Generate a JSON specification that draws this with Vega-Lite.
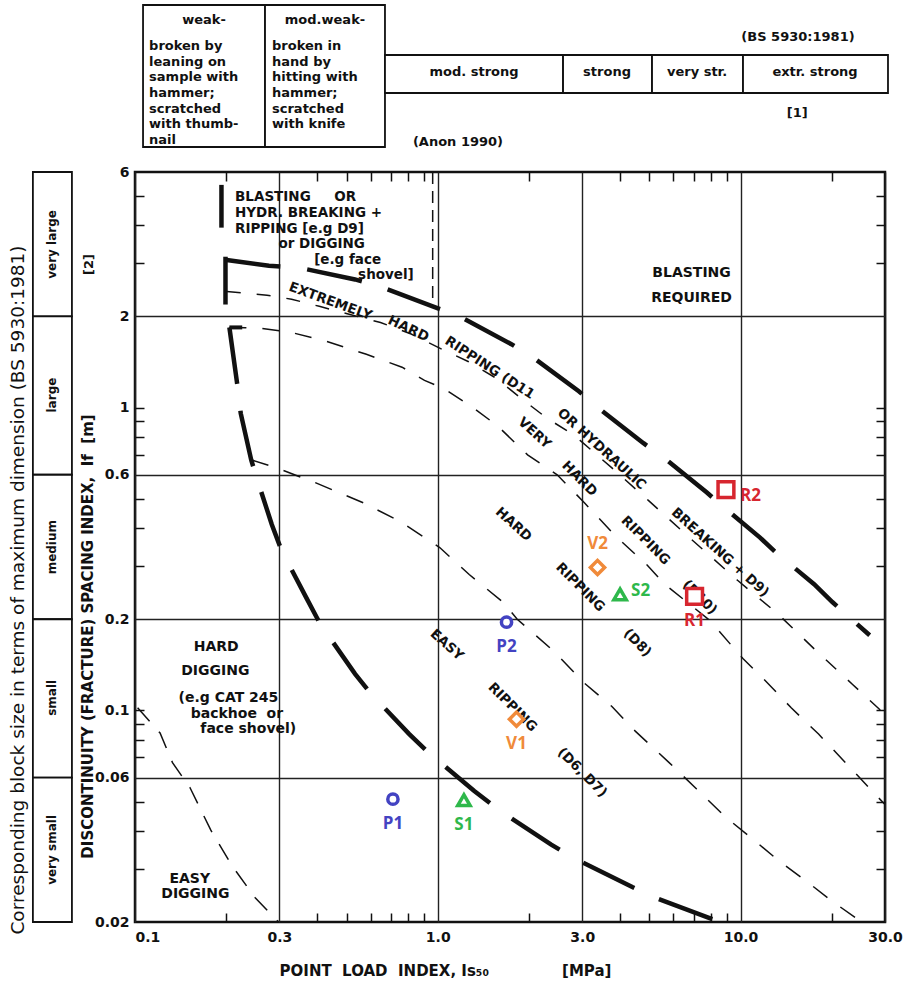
{
  "$schema": "https://vega.github.io/schema/vega-lite/v6.json",
  "width": 750,
  "height": 750,
  "autosize": {"type": "none"},
  "padding": {"left": 135, "top": 172, "right": 24, "bottom": 67},
  "background": "white",
  "config": {
    "view": {"stroke": "#111", "strokeWidth": 2.5},
    "axis": {"domain": false, "labelFont": "DejaVu Sans", "labelFontWeight": "bold", "labelFontSize": 14, "labelColor": "#111", "titleFont": "DejaVu Sans", "titleFontWeight": "bold", "titleFontSize": 14.5, "titleColor": "#111", "tickColor": "#111", "gridColor": "#222", "gridWidth": 1.4, "gridOpacity": 1}
  },
  "datasets": {
    "curves": [
      {"c": "A", "x": 0.102, "y": 0.102}, {"c": "A", "x": 0.121, "y": 0.0842}, {"c": "A", "x": 0.133, "y": 0.0672}, {"c": "A", "x": 0.152, "y": 0.0555}, {"c": "A", "x": 0.178, "y": 0.0402}, {"c": "A", "x": 0.21, "y": 0.0305}, {"c": "A", "x": 0.249, "y": 0.0241}, {"c": "A", "x": 0.298, "y": 0.02},
      {"c": "B", "x": 0.205, "y": 1.84}, {"c": "B", "x": 0.217, "y": 1.22}, {"c": "B", "x": 0.2235, "y": 0.957}, {"c": "B", "x": 0.242, "y": 0.672}, {"c": "B", "x": 0.251, "y": 0.596}, {"c": "B", "x": 0.283, "y": 0.411}, {"c": "B", "x": 0.305, "y": 0.337}, {"c": "B", "x": 0.37, "y": 0.233}, {"c": "B", "x": 0.409, "y": 0.193}, {"c": "B", "x": 0.533, "y": 0.132}, {"c": "B", "x": 0.604, "y": 0.113}, {"c": "B", "x": 0.805, "y": 0.0835}, {"c": "B", "x": 0.918, "y": 0.0735}, {"c": "B", "x": 1.32, "y": 0.0542}, {"c": "B", "x": 1.62, "y": 0.0463}, {"c": "B", "x": 2.37, "y": 0.036}, {"c": "B", "x": 2.82, "y": 0.0325}, {"c": "B", "x": 4.39, "y": 0.0261}, {"c": "B", "x": 5.37, "y": 0.0238}, {"c": "B", "x": 8.56, "y": 0.02},
      {"c": "C", "x": 0.242, "y": 0.672}, {"c": "C", "x": 0.294, "y": 0.632}, {"c": "C", "x": 0.394, "y": 0.565}, {"c": "C", "x": 0.567, "y": 0.485}, {"c": "C", "x": 0.744, "y": 0.423}, {"c": "C", "x": 1.015, "y": 0.345}, {"c": "C", "x": 1.27, "y": 0.281}, {"c": "C", "x": 1.64, "y": 0.228}, {"c": "C", "x": 1.83, "y": 0.2}, {"c": "C", "x": 2.43, "y": 0.156}, {"c": "C", "x": 3.05, "y": 0.123}, {"c": "C", "x": 3.76, "y": 0.103}, {"c": "C", "x": 4.49, "y": 0.0854}, {"c": "C", "x": 5.81, "y": 0.0672}, {"c": "C", "x": 7.16, "y": 0.055}, {"c": "C", "x": 8.9, "y": 0.0445}, {"c": "C", "x": 11.0, "y": 0.0375}, {"c": "C", "x": 13.3, "y": 0.032}, {"c": "C", "x": 16.4, "y": 0.0274}, {"c": "C", "x": 20.1, "y": 0.0234}, {"c": "C", "x": 25.1, "y": 0.02},
      {"c": "D", "x": 0.205, "y": 1.84}, {"c": "D", "x": 0.258, "y": 1.83}, {"c": "D", "x": 0.329, "y": 1.77}, {"c": "D", "x": 0.426, "y": 1.66}, {"c": "D", "x": 0.581, "y": 1.5}, {"c": "D", "x": 0.762, "y": 1.36}, {"c": "D", "x": 0.904, "y": 1.23}, {"c": "D", "x": 1.05, "y": 1.155}, {"c": "D", "x": 1.32, "y": 0.993}, {"c": "D", "x": 1.58, "y": 0.868}, {"c": "D", "x": 1.98, "y": 0.698}, {"c": "D", "x": 2.48, "y": 0.6}, {"c": "D", "x": 3.05, "y": 0.485}, {"c": "D", "x": 3.85, "y": 0.378}, {"c": "D", "x": 4.93, "y": 0.301}, {"c": "D", "x": 5.59, "y": 0.262}, {"c": "D", "x": 7.92, "y": 0.198}, {"c": "D", "x": 10.2, "y": 0.148}, {"c": "D", "x": 12.3, "y": 0.123}, {"c": "D", "x": 14.7, "y": 0.102}, {"c": "D", "x": 18.1, "y": 0.0835}, {"c": "D", "x": 22.4, "y": 0.0666}, {"c": "D", "x": 27.8, "y": 0.0529}, {"c": "D", "x": 30, "y": 0.0489},
      {"c": "E", "x": 0.201, "y": 2.42}, {"c": "E", "x": 0.273, "y": 2.35}, {"c": "E", "x": 0.329, "y": 2.28}, {"c": "E", "x": 0.406, "y": 2.16}, {"c": "E", "x": 0.513, "y": 2.03}, {"c": "E", "x": 0.647, "y": 1.91}, {"c": "E", "x": 0.817, "y": 1.75}, {"c": "E", "x": 1.03, "y": 1.56}, {"c": "E", "x": 1.26, "y": 1.42}, {"c": "E", "x": 1.56, "y": 1.25}, {"c": "E", "x": 1.89, "y": 1.07}, {"c": "E", "x": 2.3, "y": 0.921}, {"c": "E", "x": 2.82, "y": 0.811}, {"c": "E", "x": 3.76, "y": 0.632}, {"c": "E", "x": 4.97, "y": 0.493}, {"c": "E", "x": 6.78, "y": 0.372}, {"c": "E", "x": 9.77, "y": 0.269}, {"c": "E", "x": 13.3, "y": 0.208}, {"c": "E", "x": 17.7, "y": 0.158}, {"c": "E", "x": 23.4, "y": 0.122}, {"c": "E", "x": 30, "y": 0.097},
      {"c": "F", "x": 0.198, "y": 3.08}, {"c": "F", "x": 0.277, "y": 2.94}, {"c": "F", "x": 0.348, "y": 2.9}, {"c": "F", "x": 0.533, "y": 2.65}, {"c": "F", "x": 0.647, "y": 2.51}, {"c": "F", "x": 0.962, "y": 2.16}, {"c": "F", "x": 1.18, "y": 2.0}, {"c": "F", "x": 1.75, "y": 1.62}, {"c": "F", "x": 2.09, "y": 1.45}, {"c": "F", "x": 2.93, "y": 1.13}, {"c": "F", "x": 3.42, "y": 0.99}, {"c": "F", "x": 4.78, "y": 0.763}, {"c": "F", "x": 5.59, "y": 0.682}, {"c": "F", "x": 7.74, "y": 0.524}, {"c": "F", "x": 8.84, "y": 0.467}, {"c": "F", "x": 11.6, "y": 0.372}, {"c": "F", "x": 13.1, "y": 0.332}, {"c": "F", "x": 17.5, "y": 0.261}, {"c": "F", "x": 20.1, "y": 0.228}, {"c": "F", "x": 26.7, "y": 0.177}
    ],
    "pts": [
      {"id": "P1", "g": "P", "x": 0.711, "y": 0.0509},
      {"id": "S1", "g": "S", "x": 1.22, "y": 0.0505},
      {"id": "P2", "g": "P", "x": 1.687, "y": 0.1956},
      {"id": "V1", "g": "V", "x": 1.82, "y": 0.0935},
      {"id": "V2", "g": "V", "x": 3.37, "y": 0.2965},
      {"id": "S2", "g": "S", "x": 4.0, "y": 0.2416},
      {"id": "R1", "g": "R", "x": 7.05, "y": 0.238},
      {"id": "R2", "g": "R", "x": 8.95, "y": 0.5356}
    ]
  },
  "layer": [
    {
      "data": {"name": "curves"},
      "transform": [{"filter": "datum.c === 'F'"}],
      "mark": {"type": "line", "stroke": "#111", "strokeWidth": 4.5, "strokeDash": [56, 27]},
      "encoding": {
        "x": {"field": "x", "type": "quantitative", "scale": {"type": "log", "domain": [0.1, 30], "nice": false},
          "axis": {"orient": "bottom", "values": [0.1, 0.3, 1, 3, 10, 30], "format": ".1f", "grid": true, "ticks": false, "tickSize": 0, "labelPadding": 8, "labelFlush": false, "labelAlign": {"condition": {"test": "datum.value <= 0.1", "value": "left"}, "value": "center"}, "title": "POINT\u00a0\u00a0LOAD\u00a0\u00a0INDEX,\u00a0Is₅₀\u00a0\u00a0\u00a0\u00a0\u00a0\u00a0\u00a0\u00a0\u00a0\u00a0\u00a0\u00a0\u00a0\u00a0[MPa]", "titleFontSize": 15, "titleX": 310, "titleY": 48, "titleBaseline": "middle", "titleAlign": "center"}},
        "y": {"field": "y", "type": "quantitative", "scale": {"type": "log", "domain": [0.02, 6], "nice": false},
          "axis": {"orient": "left", "values": [6, 2, 1, 0.6, 0.2, 0.1, 0.06, 0.02], "format": "~g", "grid": false, "ticks": false, "tickSize": 0, "labelPadding": 6, "title": "DISCONTINUITY\u00a0(FRACTURE)\u00a0SPACING\u00a0INDEX,\u00a0\u00a0If\u00a0\u00a0[m]", "titleFontSize": 15, "titleX": -48, "titleY": 464, "titleAlign": "center", "titleBaseline": "middle", "titleAngle": 270}}
      }
    },
    {
      "data": {"name": "curves"},
      "transform": [{"filter": "datum.c === 'B'"}],
      "mark": {"type": "line", "stroke": "#111", "strokeWidth": 4.5, "strokeDash": [57, 27]},
      "encoding": {
        "x": {"field": "x", "type": "quantitative", "scale": {"type": "log", "domain": [0.1, 30], "nice": false},
          "axis": {"orient": "bottom", "offset": -9, "values": [0.2, 0.4, 0.5, 0.6, 0.7, 0.8, 0.9, 2, 4, 5, 6, 7, 8, 9, 20], "labels": false, "grid": false, "ticks": true, "tickSize": 9, "tickWidth": 1.5, "title": null}},
        "y": {"field": "y", "type": "quantitative", "scale": {"type": "log", "domain": [0.02, 6], "nice": false},
          "axis": {"orient": "left", "offset": -9, "values": [5, 4, 3, 1, 0.9, 0.8, 0.7, 0.5, 0.4, 0.3, 0.1, 0.09, 0.08, 0.07, 0.05, 0.04, 0.03], "labels": false, "grid": false, "ticks": true, "tickSize": 9, "tickWidth": 1.5, "title": null}}
      }
    },
    {
      "data": {"name": "curves"},
      "transform": [{"filter": "datum.c === 'C'"}],
      "mark": {"type": "line", "stroke": "#111", "strokeWidth": 1.5, "strokeDash": [18, 16]},
      "encoding": {
        "x": {"field": "x", "type": "quantitative", "scale": {"type": "log", "domain": [0.1, 30], "nice": false},
          "axis": {"orient": "top", "offset": -9, "values": [0.2, 0.4, 0.5, 0.6, 0.7, 0.8, 0.9, 2, 4, 5, 6, 7, 8, 9, 20], "labels": false, "grid": false, "ticks": true, "tickSize": 9, "tickWidth": 1.5, "title": null}},
        "y": {"field": "y", "type": "quantitative", "scale": {"type": "log", "domain": [0.02, 6], "nice": false},
          "axis": {"orient": "right", "offset": -9, "values": [5, 4, 3, 1, 0.9, 0.8, 0.7, 0.5, 0.4, 0.3, 0.1, 0.09, 0.08, 0.07, 0.05, 0.04, 0.03], "labels": false, "grid": false, "ticks": true, "tickSize": 9, "tickWidth": 1.5, "title": null}}
      }
    },
    {
      "data": {"name": "curves"},
      "transform": [{"filter": "datum.c === 'D'"}],
      "mark": {"type": "line", "stroke": "#111", "strokeWidth": 1.5, "strokeDash": [17, 16]},
      "encoding": {
        "x": {"field": "x", "type": "quantitative", "scale": {"type": "log", "domain": [0.1, 30], "nice": false}, "axis": null},
        "y": {"field": "y", "type": "quantitative", "scale": {"type": "log", "domain": [0.02, 6], "nice": false},
          "axis": {"orient": "left", "values": [2, 0.6, 0.2, 0.06], "labels": false, "ticks": false, "tickSize": 0, "grid": true, "title": null}}
      }
    },
    {
      "data": {"name": "curves"},
      "transform": [{"filter": "datum.c === 'E'"}],
      "mark": {"type": "line", "stroke": "#111", "strokeWidth": 1.5, "strokeDash": [14, 16]},
      "encoding": {
        "x": {"field": "x", "type": "quantitative", "scale": {"type": "log", "domain": [0.1, 30], "nice": false}, "axis": null},
        "y": {"field": "y", "type": "quantitative", "scale": {"type": "log", "domain": [0.02, 6], "nice": false}, "axis": null}
      }
    },
    {
      "data": {"name": "curves"},
      "transform": [{"filter": "datum.c === 'A'"}],
      "mark": {"type": "line", "stroke": "#111", "strokeWidth": 1.5, "strokeDash": [18, 14]},
      "encoding": {
        "x": {"field": "x", "type": "quantitative", "scale": {"type": "log", "domain": [0.1, 30], "nice": false}, "axis": null},
        "y": {"field": "y", "type": "quantitative", "scale": {"type": "log", "domain": [0.02, 6], "nice": false}, "axis": null}
      }
    },
    {
      "data": {"values": [{"x": 0.193, "y": 5.44, "y2": 3.93}, {"x": 0.199, "y": 3.15, "y2": 2.19}]},
      "mark": {"type": "rule", "stroke": "#111", "strokeWidth": 4.5},
      "encoding": {
        "x": {"field": "x", "type": "quantitative", "scale": {"type": "log", "domain": [0.1, 30], "nice": false}, "axis": null},
        "y": {"field": "y", "type": "quantitative", "scale": {"type": "log", "domain": [0.02, 6], "nice": false}, "axis": null},
        "y2": {"field": "y2"}
      }
    },
    {
      "data": {"values": [{"x": 0.205, "x2": 0.226, "y": 1.84}]},
      "mark": {"type": "rule", "stroke": "#111", "strokeWidth": 4},
      "encoding": {
        "x": {"field": "x", "type": "quantitative", "scale": {"type": "log", "domain": [0.1, 30], "nice": false}, "axis": null},
        "x2": {"field": "x2"},
        "y": {"field": "y", "type": "quantitative", "scale": {"type": "log", "domain": [0.02, 6], "nice": false}, "axis": null}
      }
    },
    {
      "data": {"values": [{"x": 0.962, "y": 6, "y2": 2.16}]},
      "mark": {"type": "rule", "stroke": "#111", "strokeWidth": 1.5, "strokeDash": [12, 7]},
      "encoding": {
        "x": {"field": "x", "type": "quantitative", "scale": {"type": "log", "domain": [0.1, 30], "nice": false}, "axis": null},
        "y": {"field": "y", "type": "quantitative", "scale": {"type": "log", "domain": [0.02, 6], "nice": false}, "axis": null},
        "y2": {"field": "y2"}
      }
    },
    {
      "data": {"values": [
        {"lab": "very large", "lo": 2, "hi": 6, "mid": 3.46},
        {"lab": "large", "lo": 0.6, "hi": 2, "mid": 1.1},
        {"lab": "medium", "lo": 0.2, "hi": 0.6, "mid": 0.346},
        {"lab": "small", "lo": 0.06, "hi": 0.2, "mid": 0.11},
        {"lab": "very small", "lo": 0.02, "hi": 0.06, "mid": 0.0346}
      ]},
      "layer": [
        {
          "mark": {"type": "rect", "fill": "white", "stroke": "#111", "strokeWidth": 1.8},
          "encoding": {
            "x": {"datum": 0.046, "type": "quantitative", "scale": {"type": "log", "domain": [0.1, 30], "nice": false}, "axis": null},
            "x2": {"datum": 0.0619},
            "y": {"field": "lo", "type": "quantitative", "scale": {"type": "log", "domain": [0.02, 6], "nice": false}, "axis": null},
            "y2": {"field": "hi"}
          }
        },
        {
          "mark": {"type": "text", "angle": 270, "font": "DejaVu Sans", "fontWeight": "bold", "fontSize": 12, "fill": "#111", "align": "center", "baseline": "middle"},
          "encoding": {
            "x": {"datum": 0.0533, "type": "quantitative", "scale": {"type": "log", "domain": [0.1, 30], "nice": false}, "axis": null},
            "y": {"field": "mid", "type": "quantitative", "scale": {"type": "log", "domain": [0.02, 6], "nice": false}, "axis": null},
            "text": {"field": "lab"}
          }
        }
      ]
    },
    {
      "data": {"values": [
        {"x1": 0.1063, "x2": 0.2688, "y1": 7.257, "y2": 21.37},
        {"x1": 0.2688, "x2": 0.6693, "y1": 7.257, "y2": 21.37},
        {"x1": 0.6693, "x2": 2.593, "y1": 10.94, "y2": 14.61},
        {"x1": 2.593, "x2": 5.101, "y1": 10.94, "y2": 14.61},
        {"x1": 5.101, "x2": 10.19, "y1": 10.94, "y2": 14.61},
        {"x1": 10.19, "x2": 30.69, "y1": 10.94, "y2": 14.61}
      ]},
      "mark": {"type": "rect", "fill": "white", "stroke": "#111", "strokeWidth": 1.8},
      "encoding": {
        "x": {"field": "x1", "type": "quantitative", "scale": {"type": "log", "domain": [0.1, 30], "nice": false}, "axis": null},
        "x2": {"field": "x2"},
        "y": {"field": "y1", "type": "quantitative", "scale": {"type": "log", "domain": [0.02, 6], "nice": false}, "axis": null},
        "y2": {"field": "y2"}
      }
    },
    {
      "data": {"values": [
        {"t": "weak-", "x": 0.169, "y": 19.07},
        {"t": "mod.weak-", "x": 0.4242, "y": 19.07},
        {"t": "mod. strong", "x": 1.317, "y": 12.84},
        {"t": "strong", "x": 3.622, "y": 12.84},
        {"t": "very str.", "x": 7.183, "y": 12.84},
        {"t": "extr. strong", "x": 17.62, "y": 12.84},
        {"t": "(BS 5930:1981)", "x": 15.48, "y": 16.76},
        {"t": "[1]", "x": 15.4, "y": 9.4},
        {"t": "(Anon 1990)", "x": 1.166, "y": 7.54}
      ]},
      "mark": {"type": "text", "font": "DejaVu Sans", "fontWeight": "bold", "fontSize": 13, "fill": "#111", "align": "center", "baseline": "middle"},
      "encoding": {
        "x": {"field": "x", "type": "quantitative", "scale": {"type": "log", "domain": [0.1, 30], "nice": false}, "axis": null},
        "y": {"field": "y", "type": "quantitative", "scale": {"type": "log", "domain": [0.02, 6], "nice": false}, "axis": null},
        "text": {"field": "t"}
      }
    },
    {
      "data": {"values": [
        {"t": "BLASTING", "x": 6.89, "y": 2.79},
        {"t": "REQUIRED", "x": 6.89, "y": 2.31},
        {"t": "HARD", "x": 0.1854, "y": 0.162},
        {"t": "DIGGING", "x": 0.1841, "y": 0.1352},
        {"t": "(e.g CAT 245", "x": 0.2035, "y": 0.1096},
        {"t": "backhoe\u00a0\u00a0or", "x": 0.2171, "y": 0.0971},
        {"t": "face shovel)", "x": 0.2367, "y": 0.0868},
        {"t": "EASY", "x": 0.1516, "y": 0.0278},
        {"t": "DIGGING", "x": 0.1583, "y": 0.0247}
      ]},
      "mark": {"type": "text", "font": "DejaVu Sans", "fontWeight": "bold", "fontSize": 14, "fill": "#111", "align": "center", "baseline": "middle"},
      "encoding": {
        "x": {"field": "x", "type": "quantitative", "scale": {"type": "log", "domain": [0.1, 30], "nice": false}, "axis": null},
        "y": {"field": "y", "type": "quantitative", "scale": {"type": "log", "domain": [0.02, 6], "nice": false}, "axis": null},
        "text": {"field": "t"}
      }
    },
    {
      "data": {"values": [
        {"t": "broken by\nleaning on\nsample with\nhammer;\nscratched\nwith thumb-\nnail", "x": 0.1113, "y": 16.38},
        {"t": "broken in\nhand by\nhitting with\nhammer;\nscratched\nwith knife", "x": 0.2835, "y": 16.38}
      ]},
      "mark": {"type": "text", "font": "DejaVu Sans", "fontWeight": "bold", "fontSize": 13, "fill": "#111", "align": "left", "baseline": "top", "lineBreak": "\n", "lineHeight": 15.7},
      "encoding": {
        "x": {"field": "x", "type": "quantitative", "scale": {"type": "log", "domain": [0.1, 30], "nice": false}, "axis": null},
        "y": {"field": "y", "type": "quantitative", "scale": {"type": "log", "domain": [0.02, 6], "nice": false}, "axis": null},
        "text": {"field": "t"}
      }
    },
    {
      "data": {"values": [
        {"t": "BLASTING\u00a0\u00a0\u00a0\u00a0\u00a0OR\nHYDR. BREAKING +\nRIPPING [e.g D9]", "x": 0.214, "y": 5.25},
        {"t": "or DIGGING", "x": 0.2978, "y": 3.66},
        {"t": "[e.g face", "x": 0.3906, "y": 3.24},
        {"t": "shovel]", "x": 0.5456, "y": 2.9}
      ]},
      "mark": {"type": "text", "font": "DejaVu Sans", "fontWeight": "bold", "fontSize": 13.5, "fill": "#111", "align": "left", "baseline": "top", "lineBreak": "\n", "lineHeight": 16},
      "encoding": {
        "x": {"field": "x", "type": "quantitative", "scale": {"type": "log", "domain": [0.1, 30], "nice": false}, "axis": null},
        "y": {"field": "y", "type": "quantitative", "scale": {"type": "log", "domain": [0.02, 6], "nice": false}, "axis": null},
        "text": {"field": "t"}
      }
    },
    {
      "data": {"values": [
        {"t": "Corresponding block size in terms of maximum dimension (BS 5930:1981)", "x": 0.0411, "y": 0.2497}
      ]},
      "mark": {"type": "text", "angle": 270, "font": "DejaVu Sans", "fontSize": 18.5, "fill": "#111", "align": "center", "baseline": "middle"},
      "encoding": {
        "x": {"field": "x", "type": "quantitative", "scale": {"type": "log", "domain": [0.1, 30], "nice": false}, "axis": null},
        "y": {"field": "y", "type": "quantitative", "scale": {"type": "log", "domain": [0.02, 6], "nice": false}, "axis": null},
        "text": {"field": "t"}
      }
    },
    {
      "data": {"values": [{"t": "[2]", "x": 0.0703, "y": 2.97}]},
      "mark": {"type": "text", "angle": 270, "font": "DejaVu Sans", "fontWeight": "bold", "fontSize": 13, "fill": "#111", "align": "center", "baseline": "middle"},
      "encoding": {
        "x": {"field": "x", "type": "quantitative", "scale": {"type": "log", "domain": [0.1, 30], "nice": false}, "axis": null},
        "y": {"field": "y", "type": "quantitative", "scale": {"type": "log", "domain": [0.02, 6], "nice": false}, "axis": null},
        "text": {"field": "t"}
      }
    },
    {
      "data": {"values": [{"t": "EXTREMELY", "x": 0.4423, "y": 2.241}]},
      "mark": {"type": "text", "angle": 20, "font": "DejaVu Sans", "fontWeight": "bold", "fontSize": 13.5, "fill": "#111", "align": "center", "baseline": "middle"},
      "encoding": {
        "x": {"field": "x", "type": "quantitative", "scale": {"type": "log", "domain": [0.1, 30], "nice": false}, "axis": null},
        "y": {"field": "y", "type": "quantitative", "scale": {"type": "log", "domain": [0.02, 6], "nice": false}, "axis": null},
        "text": {"field": "t"}
      }
    },
    {
      "data": {"values": [{"t": "HARD", "x": 0.8, "y": 1.82}]},
      "mark": {"type": "text", "angle": 25, "font": "DejaVu Sans", "fontWeight": "bold", "fontSize": 13.5, "fill": "#111", "align": "center", "baseline": "middle"},
      "encoding": {
        "x": {"field": "x", "type": "quantitative", "scale": {"type": "log", "domain": [0.1, 30], "nice": false}, "axis": null},
        "y": {"field": "y", "type": "quantitative", "scale": {"type": "log", "domain": [0.02, 6], "nice": false}, "axis": null},
        "text": {"field": "t"}
      }
    },
    {
      "data": {"values": [{"t": "RIPPING (D11", "x": 1.483, "y": 1.352}]},
      "mark": {"type": "text", "angle": 33, "font": "DejaVu Sans", "fontWeight": "bold", "fontSize": 13.5, "fill": "#111", "align": "center", "baseline": "middle"},
      "encoding": {
        "x": {"field": "x", "type": "quantitative", "scale": {"type": "log", "domain": [0.1, 30], "nice": false}, "axis": null},
        "y": {"field": "y", "type": "quantitative", "scale": {"type": "log", "domain": [0.02, 6], "nice": false}, "axis": null},
        "text": {"field": "t"}
      }
    },
    {
      "data": {"values": [
        {"t": "OR HYDRAULIC", "x": 3.477, "y": 0.7294},
        {"t": "BREAKING + D9)", "x": 8.56, "y": 0.3322},
        {"t": "VERY", "x": 2.085, "y": 0.8232},
        {"t": "HARD", "x": 1.779, "y": 0.4109},
        {"t": "EASY", "x": 1.071, "y": 0.1644}
      ]},
      "mark": {"type": "text", "angle": 42, "font": "DejaVu Sans", "fontWeight": "bold", "fontSize": 13.5, "fill": "#111", "align": "center", "baseline": "middle"},
      "encoding": {
        "x": {"field": "x", "type": "quantitative", "scale": {"type": "log", "domain": [0.1, 30], "nice": false}, "axis": null},
        "y": {"field": "y", "type": "quantitative", "scale": {"type": "log", "domain": [0.02, 6], "nice": false}, "axis": null},
        "text": {"field": "t"}
      }
    },
    {
      "data": {"values": [
        {"t": "HARD", "x": 2.934, "y": 0.5821},
        {"t": "RIPPING", "x": 4.857, "y": 0.3639},
        {"t": "(D10)", "x": 7.33, "y": 0.2362},
        {"t": "RIPPING", "x": 2.955, "y": 0.2549},
        {"t": "(D8)", "x": 4.564, "y": 0.167},
        {"t": "RIPPING", "x": 1.765, "y": 0.1024},
        {"t": "(D6, D7)", "x": 3.0, "y": 0.0623}
      ]},
      "mark": {"type": "text", "angle": 45, "font": "DejaVu Sans", "fontWeight": "bold", "fontSize": 13.5, "fill": "#111", "align": "center", "baseline": "middle"},
      "encoding": {
        "x": {"field": "x", "type": "quantitative", "scale": {"type": "log", "domain": [0.1, 30], "nice": false}, "axis": null},
        "y": {"field": "y", "type": "quantitative", "scale": {"type": "log", "domain": [0.02, 6], "nice": false}, "axis": null},
        "text": {"field": "t"}
      }
    },
    {
      "data": {"name": "pts"},
      "mark": {"type": "point", "filled": false, "fill": "white", "fillOpacity": 1, "strokeWidth": 3.5, "opacity": 1},
      "encoding": {
        "x": {"field": "x", "type": "quantitative", "scale": {"type": "log", "domain": [0.1, 30], "nice": false}, "axis": null},
        "y": {"field": "y", "type": "quantitative", "scale": {"type": "log", "domain": [0.02, 6], "nice": false}, "axis": null},
        "color": {"field": "g", "type": "nominal", "scale": {"domain": ["P", "S", "V", "R"], "range": ["#4343c2", "#2eb84b", "#f08a3a", "#d7262f"]}, "legend": null},
        "shape": {"field": "g", "type": "nominal", "scale": {"domain": ["P", "S", "V", "R"], "range": ["circle", "triangle-up", "diamond", "square"]}, "legend": null},
        "size": {"field": "g", "type": "nominal", "scale": {"domain": ["P", "S", "V", "R"], "range": [105, 250, 230, 210]}, "legend": null}
      }
    },
    {
      "data": {"name": "pts"},
      "transform": [{"filter": {"field": "id", "oneOf": ["P1", "S1", "P2", "V1", "R1"]}}],
      "mark": {"type": "text", "font": "Open Sans", "fontWeight": "bold", "fontSize": 17, "align": "center", "baseline": "middle", "dy": 25},
      "encoding": {
        "x": {"field": "x", "type": "quantitative", "scale": {"type": "log", "domain": [0.1, 30], "nice": false}, "axis": null},
        "y": {"field": "y", "type": "quantitative", "scale": {"type": "log", "domain": [0.02, 6], "nice": false}, "axis": null},
        "color": {"field": "g", "type": "nominal", "scale": {"domain": ["P", "S", "V", "R"], "range": ["#4343c2", "#2eb84b", "#f08a3a", "#d7262f"]}, "legend": null},
        "text": {"field": "id"}
      }
    },
    {
      "data": {"name": "pts"},
      "transform": [{"filter": {"field": "id", "oneOf": ["V2"]}}],
      "mark": {"type": "text", "font": "Open Sans", "fontWeight": "bold", "fontSize": 17, "align": "center", "baseline": "middle", "dy": -23},
      "encoding": {
        "x": {"field": "x", "type": "quantitative", "scale": {"type": "log", "domain": [0.1, 30], "nice": false}, "axis": null},
        "y": {"field": "y", "type": "quantitative", "scale": {"type": "log", "domain": [0.02, 6], "nice": false}, "axis": null},
        "color": {"field": "g", "type": "nominal", "scale": {"domain": ["P", "S", "V", "R"], "range": ["#4343c2", "#2eb84b", "#f08a3a", "#d7262f"]}, "legend": null},
        "text": {"field": "id"}
      }
    },
    {
      "data": {"name": "pts"},
      "transform": [{"filter": {"field": "id", "oneOf": ["S2"]}}],
      "mark": {"type": "text", "font": "Open Sans", "fontWeight": "bold", "fontSize": 17, "align": "left", "baseline": "middle", "dx": 11, "dy": -3},
      "encoding": {
        "x": {"field": "x", "type": "quantitative", "scale": {"type": "log", "domain": [0.1, 30], "nice": false}, "axis": null},
        "y": {"field": "y", "type": "quantitative", "scale": {"type": "log", "domain": [0.02, 6], "nice": false}, "axis": null},
        "color": {"field": "g", "type": "nominal", "scale": {"domain": ["P", "S", "V", "R"], "range": ["#4343c2", "#2eb84b", "#f08a3a", "#d7262f"]}, "legend": null},
        "text": {"field": "id"}
      }
    },
    {
      "data": {"name": "pts"},
      "transform": [{"filter": {"field": "id", "oneOf": ["R2"]}}],
      "mark": {"type": "text", "font": "Open Sans", "fontWeight": "bold", "fontSize": 17, "align": "left", "baseline": "middle", "dx": 14, "dy": 6},
      "encoding": {
        "x": {"field": "x", "type": "quantitative", "scale": {"type": "log", "domain": [0.1, 30], "nice": false}, "axis": null},
        "y": {"field": "y", "type": "quantitative", "scale": {"type": "log", "domain": [0.02, 6], "nice": false}, "axis": null},
        "color": {"field": "g", "type": "nominal", "scale": {"domain": ["P", "S", "V", "R"], "range": ["#4343c2", "#2eb84b", "#f08a3a", "#d7262f"]}, "legend": null},
        "text": {"field": "id"}
      }
    }
  ],
  "resolve": {"axis": {"x": "independent", "y": "independent"}}
}
